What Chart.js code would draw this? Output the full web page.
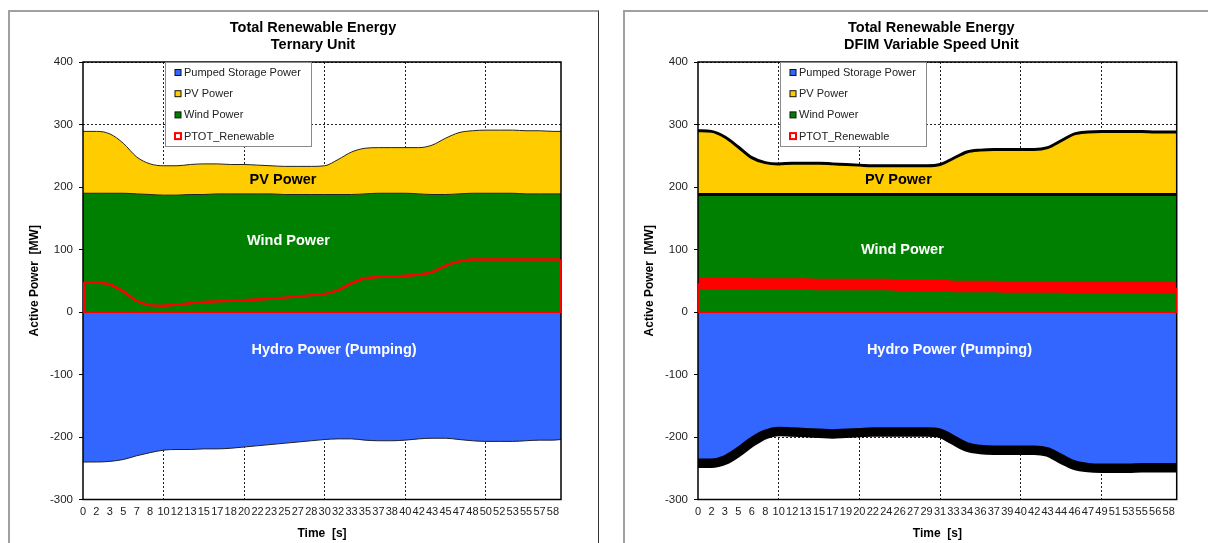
<!DOCTYPE html>
<html>
<head>
<meta charset="utf-8">
<title>Total Renewable Energy</title>
<script src="https://cdn.jsdelivr.net/npm/chart.js@4.4.1/dist/chart.umd.min.js"></script>
<style>
  html, body { margin: 0; padding: 0; background: #fff; }
  body { width: 1208px; height: 543px; position: relative; overflow: hidden; }
  .panel { position: absolute; top: 10px; height: 545px; box-sizing: border-box;
           border-top: 2px solid #a0a0a0; border-left: 2px solid #a0a0a0; }
  #panelLeft { left: 8px; width: 591px; border-right: 1px solid #333; }
  #panelRight { left: 623px; width: 600px; }
  canvas { position: absolute; left: 0; top: 0; }
</style>
</head>
<body>
<div class="panel" id="panelLeft"><canvas id="chartTernary" width="588" height="531"></canvas></div>
<div class="panel" id="panelRight"><canvas id="chartDfim" width="583" height="531"></canvas></div>
<script>
// time axis labels [s], one per sample step
const ternaryTicks = [0, 2, 3, 5, 7, 8, 10, 12, 13, 15, 17, 18, 20, 22, 23, 25, 27, 28, 30, 32, 33, 35, 37, 38, 40, 42, 43, 45, 47, 48, 50, 52, 53, 55, 57, 58];
const dfimTicks = [0, 2, 3, 5, 6, 8, 10, 12, 13, 15, 17, 19, 20, 22, 24, 26, 27, 29, 31, 33, 34, 36, 37, 39, 40, 42, 43, 44, 46, 47, 49, 51, 53, 55, 56, 58];

// ternary unit [MW] (last value = end of record)
const ternaryHydro = [-240, -240, -239, -236, -230, -225, -221, -220, -220, -219, -219, -218, -216, -214, -212, -210, -208, -206, -204, -203, -203, -205, -206, -206, -205, -203, -202, -202, -204, -206, -207, -207, -207, -206, -205, -205, -204];
const ternaryPv = [99, 99, 95, 80, 59, 49, 47, 47, 48, 49, 48, 47, 47, 46, 45, 45, 45, 45, 46, 56, 68, 73, 73, 73, 73, 74, 79, 90, 98, 100, 101, 101, 101, 101, 101, 100, 100];
const ternaryWind = [190, 190, 190, 190, 189, 188, 187, 187, 188, 188, 189, 189, 189, 189, 189, 188, 188, 188, 188, 188, 188, 189, 190, 190, 190, 189, 188, 188, 189, 190, 190, 190, 190, 189, 189, 189, 189];
const ternaryTotal = [48, 47, 44, 33, 18, 11, 10, 12, 14, 16, 17, 18, 19, 20, 21, 23, 25, 27, 29, 35, 46, 54, 56, 57, 58, 60, 64, 74, 81, 84, 84, 84, 84, 84, 84, 84, 84];

// DFIM variable speed unit [MW]
const dfimHydro = [-242, -242, -237, -224, -208, -196, -191, -192, -193, -194, -195, -194, -193, -192, -192, -192, -192, -192, -194, -205, -216, -220, -221, -221, -221, -221, -224, -235, -245, -249, -250, -250, -250, -249, -249, -249, -249];
const dfimPv = [102, 101, 92, 76, 59, 51, 49, 50, 50, 50, 49, 48, 47, 46, 46, 46, 46, 46, 48, 58, 68, 71, 72, 72, 72, 72, 75, 86, 97, 100, 101, 101, 101, 101, 100, 100, 100];
const dfimWind = [188, 188, 188, 188, 188, 188, 188, 188, 188, 188, 188, 188, 188, 188, 188, 188, 188, 188, 188, 188, 188, 188, 188, 188, 188, 188, 188, 188, 188, 188, 188, 188, 188, 188, 188, 188, 188];
const dfimTotal = [46, 46, 46, 46, 45, 45, 45, 45, 45, 44, 44, 44, 44, 44, 44, 43, 43, 43, 43, 41, 41, 41, 41, 40, 40, 40, 40, 40, 39, 39, 39, 39, 39, 39, 39, 39, 39];

const lastSample = 35.6;
const FONT = "'Liberation Sans', Arial, Helvetica, sans-serif";
const BLUE = '#3366ff', YELLOW = '#ffcc00', GREEN = '#008000', RED = '#ff0000';

Chart.defaults.font.family = FONT;
Chart.defaults.color = '#222';

const toPoints = vals => vals.map((v, i) => ({ x: Math.min(i, lastSample), y: v }));

// frame, area outline, labels, title and legend
const panelDecor = {
  id: 'panelDecor',
  afterDatasetsDraw(chart, args, opts) {
    const { ctx, chartArea: a, scales: { x, y } } = chart;
    ctx.save();
    ctx.strokeStyle = '#000';
    ctx.lineWidth = 1.5;
    ctx.strokeRect(a.left, a.top, a.right - a.left, a.bottom - a.top);

    // PTOT area edges down to zero
    const pts = chart.getDatasetMeta(3).data;
    const first = pts[0], last = pts[pts.length - 1];
    const y0 = y.getPixelForValue(0);
    ctx.strokeStyle = RED;
    ctx.lineWidth = 2;
    ctx.beginPath();
    ctx.moveTo(first.x + 1, first.y);
    ctx.lineTo(first.x + 1, y0);
    ctx.lineTo(last.x - 0.5, y0);
    ctx.lineTo(last.x - 0.5, last.y);
    ctx.stroke();

    ctx.textAlign = 'center';
    ctx.textBaseline = 'middle';
    ctx.font = 'bold 14.5px ' + FONT;
    opts.notes.forEach(n => {
      ctx.fillStyle = n.color;
      ctx.fillText(n.text, x.getPixelForValue(n.x), y.getPixelForValue(n.y));
    });
    ctx.restore();
  },
  afterDraw(chart, args, opts) {
    const { ctx, chartArea: a } = chart;
    ctx.save();
    ctx.fillStyle = '#000';
    ctx.textAlign = 'center';
    ctx.textBaseline = 'middle';
    ctx.font = 'bold 14.5px ' + FONT;
    const cx = (a.left + a.right) / 2 + opts.titleShift;
    opts.title.forEach((line, i) => ctx.fillText(line, cx, 15.5 + i * 17));

    // legend box
    const bx = a.left + 82, by = a.top;
    ctx.fillStyle = '#fff';
    ctx.fillRect(bx, by, 146, 84);
    ctx.strokeStyle = '#8a8a8a';
    ctx.lineWidth = 1;
    ctx.strokeRect(bx + 0.5, by + 0.5, 146, 84);
    ctx.font = '11px ' + FONT;
    ctx.textAlign = 'left';
    chart.data.datasets.forEach((ds, i) => {
      const ly = by + 10.5 + i * 21.2;
      const filled = ds.fill !== false;
      ctx.fillStyle = filled ? ds.backgroundColor : '#fff';
      ctx.fillRect(bx + 10, ly - 3, 6, 6);
      ctx.strokeStyle = filled ? '#111' : RED;
      ctx.lineWidth = filled ? 1 : 2;
      ctx.strokeRect(bx + 10, ly - 3, 6, 6);
      ctx.fillStyle = '#222';
      ctx.fillText(ds.label, bx + 19, ly + 0.5);
    });
    ctx.restore();
  }
};

function buildChart(canvasId, opt) {
  const heavy = opt.heavy;
  return new Chart(document.getElementById(canvasId), {
    type: 'line',
    data: {
      datasets: [
        {
          label: 'Pumped Storage Power', data: toPoints(opt.hydro), stack: 'hydro', order: 1,
          backgroundColor: BLUE, borderColor: heavy ? '#000' : '#222', borderWidth: heavy ? 9.5 : 1,
          fill: 'origin'
        },
        {
          label: 'PV Power', data: toPoints(opt.pv), stack: 'res', order: 3,
          backgroundColor: YELLOW, borderColor: heavy ? '#000' : '#222', borderWidth: heavy ? 3 : 1,
          fill: 'origin'
        },
        {
          label: 'Wind Power', data: toPoints(opt.wind), stack: 'res', order: 2,
          backgroundColor: GREEN, borderColor: heavy ? '#000' : '#222', borderWidth: heavy ? 3 : 1,
          fill: 'origin'
        },
        {
          label: 'PTOT_Renewable', data: toPoints(opt.total), stack: 'tot', order: 0,
          backgroundColor: 'rgba(0,0,0,0)', borderColor: RED, borderWidth: heavy ? 11.5 : 2.5,
          fill: false
        }
      ]
    },
    options: {
      responsive: false,
      animation: false,
      events: [],
      layout: { padding: { top: 50, right: opt.padRight, left: 0, bottom: 0 } },
      elements: {
        point: { radius: 0 },
        line: { cubicInterpolationMode: 'monotone', borderCapStyle: 'butt', borderJoinStyle: 'round' }
      },
      scales: {
        x: {
          type: 'linear', min: 0, max: lastSample,
          afterBuildTicks: axis => { axis.ticks = opt.ticks.map((_, i) => ({ value: i })); },
          afterFit: axis => { axis.height = 43.5; },
          ticks: {
            autoSkip: false, maxRotation: 0, minRotation: 0, padding: 2,
            font: { size: 11 }, color: '#222',
            callback: v => opt.ticks[v]
          },
          grid: {
            color: c => (c.index > 0 && c.index % 6 === 0) ? '#222' : 'rgba(0,0,0,0)',
            lineWidth: 1, tickLength: 4, tickColor: 'rgba(0,0,0,0)'
          },
          border: { display: false, dash: [2, 2] },
          title: {
            display: true, text: 'Time  [s]', color: '#000',
            font: { size: 12, weight: 'bold' }, padding: { top: 0, bottom: 2 }
          }
        },
        y: {
          min: -300, max: 400, stacked: true,
          afterFit: axis => { axis.width = 73; },
          ticks: { stepSize: 100, padding: 6, font: { size: 11.5 }, color: '#222' },
          grid: { color: '#222', lineWidth: 1, tickLength: 4, tickColor: '#000', tickWidth: 1, tickBorderDash: [] },
          border: { display: false, dash: [2, 2] },
          title: {
            display: true, text: 'Active Power  [MW]', color: '#000',
            font: { size: 12, weight: 'bold' }, padding: { top: 17, bottom: 0 }
          }
        }
      },
      plugins: {
        legend: { display: false },
        tooltip: { enabled: false },
        title: { display: false },
        panelDecor: { title: opt.title, titleShift: opt.titleShift, notes: opt.notes }
      }
    },
    plugins: [panelDecor]
  });
}

buildChart('chartTernary', {
  ticks: ternaryTicks, hydro: ternaryHydro, pv: ternaryPv, wind: ternaryWind, total: ternaryTotal,
  heavy: false, padRight: 37, titleShift: -9,
  title: ['Total Renewable Energy', 'Ternary Unit'],
  notes: [
    { text: 'PV Power', x: 14.9, y: 212, color: '#000' },
    { text: 'Wind Power', x: 15.3, y: 113, color: '#fff' },
    { text: 'Hydro Power (Pumping)', x: 18.7, y: -61, color: '#fff' }
  ]
});

buildChart('chartDfim', {
  ticks: dfimTicks, hydro: dfimHydro, pv: dfimPv, wind: dfimWind, total: dfimTotal,
  heavy: true, padRight: 31.3, titleShift: -6,
  title: ['Total Renewable Energy', 'DFIM Variable Speed Unit'],
  notes: [
    { text: 'PV Power', x: 14.9, y: 212, color: '#000' },
    { text: 'Wind Power', x: 15.2, y: 99, color: '#fff' },
    { text: 'Hydro Power (Pumping)', x: 18.7, y: -61, color: '#fff' }
  ]
});
</script>
</body>
</html>
